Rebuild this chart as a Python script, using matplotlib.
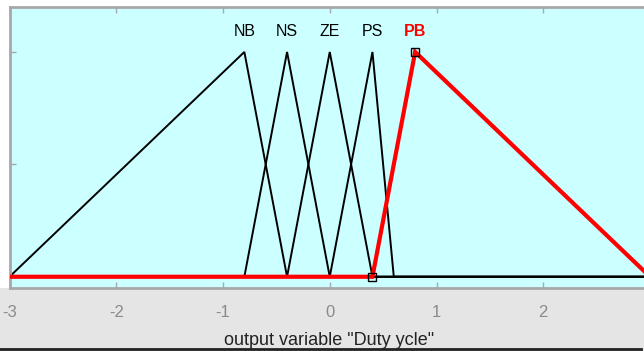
import matplotlib.pyplot as plt
from matplotlib.patches import Rectangle
from matplotlib.lines import Line2D

# membership functions of the output variable (triangular: a, b, c)
MF_NAMES = ["NB", "NS", "ZE", "PS", "PB"]
MF_PARAMS = [
    [-3.0, -0.8, -0.4],
    [-0.8, -0.4, 0.0],
    [-0.4, 0.0, 0.4],
    [0.0, 0.4, 0.6],
    [0.4, 0.8, 3.0],
]
SELECTED = "PB"
X_RANGE = [-3, 3]
X_TICKS = [-3, -2, -1, 0, 1, 2, 3]
Y_TICKS = [0, 0.5, 1]
X_LABEL = 'output variable "Duty ycle"'

AXES_BG = "#ccffff"
FIG_GREY = "#e5e5e5"
FRAME_GREY = "#a8a8a8"

W, H = 644, 351
plt.rcParams['font.family'] = ['Liberation Sans', 'DejaVu Sans']
plt.rcParams['axes.unicode_minus'] = False
fig = plt.figure(figsize=(W / 100, H / 100), dpi=100, facecolor="white")

# grey panel under the axes
fig.patches.append(Rectangle((0, 0), 1, (H - 288) / H, transform=fig.transFigure,
                             facecolor=FIG_GREY, edgecolor="none", zorder=-5))

ax = fig.add_axes([9.5 / W, (H - 288) / H, (650 - 9.5) / W, 281 / H])
ax.set_facecolor(AXES_BG)
ax.set_xlim(*X_RANGE)
ax.set_ylim(-0.05, 1.2)


def tri_points(p):
    a, b, c = p
    xs = [X_RANGE[0], a, b, c, X_RANGE[1]]
    ys = [0, 0, 1, 0, 0]
    return xs, ys


# black curves first, selected one on top in red
for name, p in zip(MF_NAMES, MF_PARAMS):
    xs, ys = tri_points(p)
    if name == SELECTED:
        continue
    ax.plot(xs, ys, color="black", linewidth=1.4, solid_joinstyle="miter", zorder=2)
    ax.text(p[1], 1.09, name, ha="center", va="center", fontsize=11.5, color="black")

for name, p in zip(MF_NAMES, MF_PARAMS):
    if name != SELECTED:
        continue
    xs, ys = tri_points(p)
    ax.plot(xs, ys, color="red", linewidth=3, solid_joinstyle="miter", zorder=3)
    ax.plot([p[0], p[1]], [0, 1], linestyle="none", marker="s", markersize=6,
            markerfacecolor="none", markeredgecolor="black", markeredgewidth=1, zorder=4)
    ax.text(p[1], 1.09, name, ha="center", va="center", fontsize=11.5,
            color="red", fontweight="bold")

ax.set_xticks(X_TICKS)
ax.set_yticks(Y_TICKS)
ax.set_yticklabels([])
ax.tick_params(direction="in", length=4, width=1, color=FRAME_GREY,
               top=True, right=True, labelsize=12, labelcolor="#8a8a8a")
ax.tick_params(axis="x", pad=12)
for s in ax.spines.values():
    s.set_color(FRAME_GREY)
    s.set_linewidth(2)

fig.text(329 / W, (H - 345) / H, X_LABEL, ha="center", va="baseline",
         fontsize=13, color="#222222")
fig.lines.append(Line2D([0, 641 / W], [(H - 348.5) / H] * 2, transform=fig.transFigure,
                        color="#222222", linewidth=2, zorder=5))

fig.savefig("out.png", dpi=100, facecolor=fig.get_facecolor())
